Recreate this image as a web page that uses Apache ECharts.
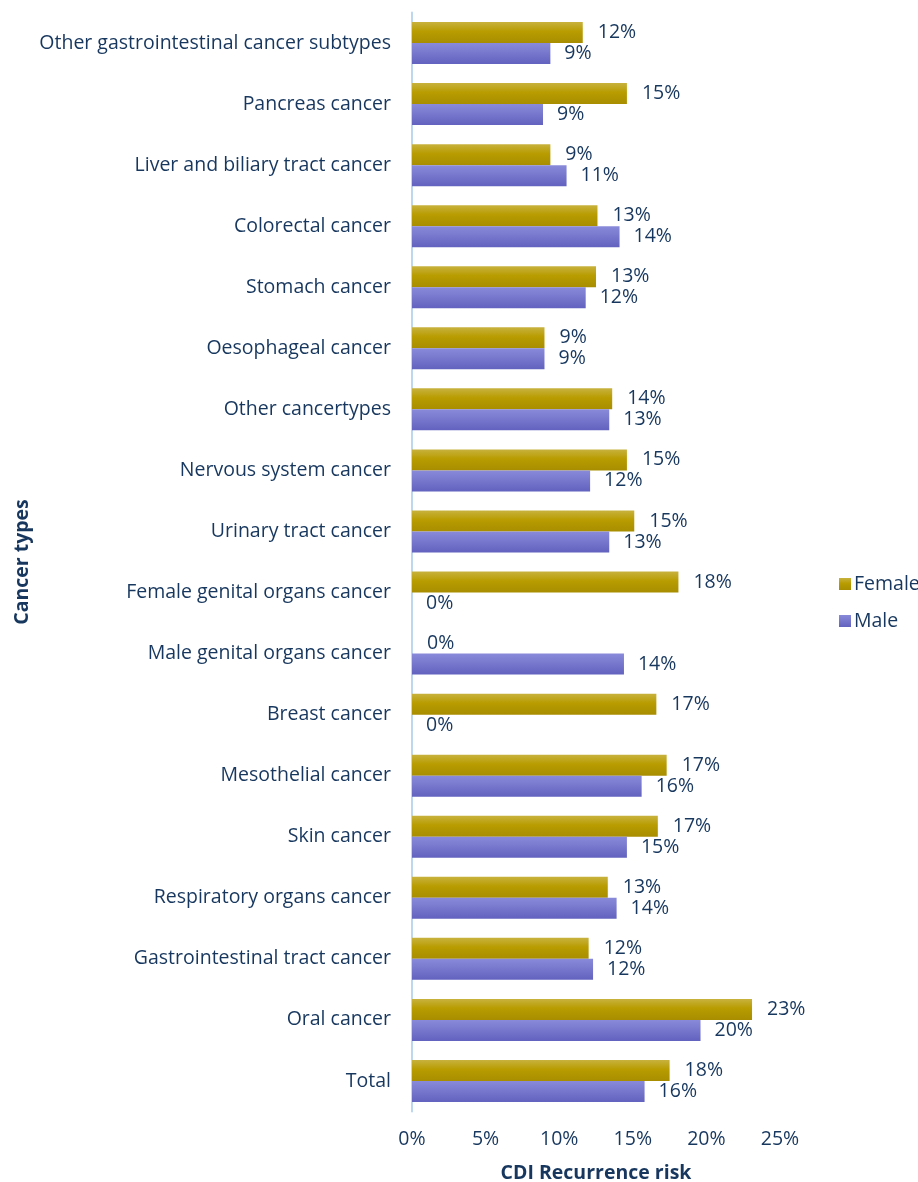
<!DOCTYPE html>
<html>
<head>
<meta charset="utf-8">
<script src="https://cdn.jsdelivr.net/npm/echarts@6/dist/echarts.min.js"></script>
<style>
html,body{margin:0;padding:0;background:#fff;}
#chart{width:918px;height:1182px;}
</style>
</head>
<body>
<div id="chart"></div>
<script>
const categories = [
  "Other gastrointestinal cancer subtypes",
  "Pancreas cancer",
  "Liver and biliary tract cancer",
  "Colorectal cancer",
  "Stomach cancer",
  "Oesophageal cancer",
  "Other cancertypes",
  "Nervous system cancer",
  "Urinary tract cancer",
  "Female genital organs cancer",
  "Male genital organs cancer",
  "Breast cancer",
  "Mesothelial cancer",
  "Skin cancer",
  "Respiratory organs cancer",
  "Gastrointestinal tract cancer",
  "Oral cancer",
  "Total"
];
const femaleValues = [11.6, 14.6, 9.4, 12.6, 12.5, 9.0, 13.6, 14.6, 15.1, 18.1, 0, 16.6, 17.3, 16.7, 13.3, 12.0, 23.1, 17.5];
const maleValues   = [9.4, 8.9, 10.5, 14.1, 11.8, 9.0, 13.4, 12.1, 13.4, 0, 14.4, 0, 15.6, 14.6, 13.9, 12.3, 19.6, 15.8];
const xTicks = [0, 5, 10, 15, 20, 25];

const navy = '#17375E';
const font = 'Open Sans';
const fs = 19.5;
const chart = echarts.init(document.getElementById('chart'));
const femaleGrad = new echarts.graphic.LinearGradient(0, 0, 0, 1, [
  {offset: 0, color: '#C8B23E'},
  {offset: 0.45, color: '#B89C00'},
  {offset: 1, color: '#A88D00'}
]);
const maleGrad = new echarts.graphic.LinearGradient(0, 0, 0, 1, [
  {offset: 0, color: '#8A8ADA'},
  {offset: 1, color: '#6262BF'}
]);
const lbl = {
  show: true, position: 'right', distance: 15,
  color: navy, fontFamily: font, fontSize: fs,
  formatter: p => Math.round(p.value) + '%'
};
chart.setOption({
  animation: false,
  textStyle: {fontFamily: font},
  grid: {left: 412, right: 138, top: 12.5, bottom: 70.5, containLabel: false, outerBoundsMode: 'none'},
  legend: {
    orient: 'vertical', left: 834, top: 569, itemGap: 17,
    itemWidth: 12, itemHeight: 12, icon: 'rect',
    textStyle: {color: navy, fontFamily: font, fontSize: fs, padding: [0,0,0,-2]},
    data: ['Female', 'Male']
  },
  xAxis: {
    type: 'value', min: xTicks[0], max: xTicks[xTicks.length-1], interval: 5,
    axisLine: {show: false}, axisTick: {show: false}, splitLine: {show: false},
    axisLabel: {color: navy, fontFamily: font, fontSize: fs, margin: 18, formatter: v => v + '%'},
    name: 'CDI Recurrence risk', nameLocation: 'middle', nameGap: 52,
    nameTextStyle: {color: navy, fontFamily: font, fontSize: fs, fontWeight: 'bold'}
  },
  yAxis: {
    type: 'category', data: categories, inverse: true,
    axisLine: {show: true, lineStyle: {color: '#BDD7EE', width: 2}},
    axisTick: {show: false},
    axisLabel: {color: navy, fontFamily: font, fontSize: fs, margin: 21},
    name: 'Cancer types', nameLocation: 'middle', nameGap: 380, nameRotate: 90,
    nameTextStyle: {color: navy, fontFamily: font, fontSize: fs, fontWeight: 'bold'}
  },
  series: [
    {name: 'Female', type: 'bar', data: femaleValues, barWidth: 21, barGap: '0%',
     itemStyle: {color: femaleGrad}, label: lbl},
    {name: 'Male', type: 'bar', data: maleValues, barWidth: 21, barGap: '0%',
     itemStyle: {color: maleGrad}, label: Object.assign({}, lbl, {distance: 14})}
  ]
});
</script>
</body>
</html>
